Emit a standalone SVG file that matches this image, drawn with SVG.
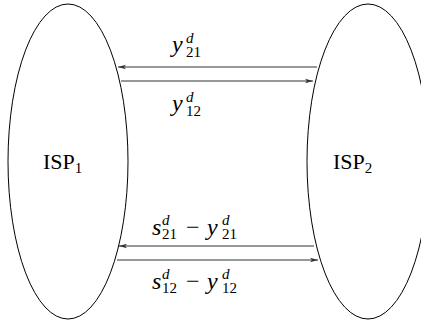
<svg xmlns="http://www.w3.org/2000/svg" width="421" height="321" viewBox="0 0 421 321">
<style>
.node{fill:none;stroke:#000;stroke-width:1}
.conn{stroke:#333;stroke-width:1.2;fill:none}
</style>
<defs>
<marker id="ah" markerWidth="9" markerHeight="6" refX="8" refY="3" orient="auto" markerUnits="userSpaceOnUse">
<path d="M0,0.8 L8,3 L0,5.2 L2,3 Z" fill="#333"/>
</marker>
</defs>
<rect width="421" height="321" fill="#fff"/>
<g id="isp1">
<ellipse class="node" cx="68" cy="161.5" rx="60" ry="157.5"/>
<text font-family="Liberation Serif, serif" font-size="22" x="43" y="169">ISP<tspan font-size="15" dy="4">1</tspan></text>
</g>
<g id="isp2">
<ellipse class="node" cx="368" cy="161.5" rx="61" ry="157.5"/>
<text font-family="Liberation Serif, serif" font-size="22" x="333" y="169">ISP<tspan font-size="15" dy="4">2</tspan></text>
</g>
<g id="connectors">
<line class="conn" x1="317" y1="67" x2="118" y2="67" marker-end="url(#ah)"/>
<line class="conn" x1="121" y1="81" x2="313" y2="81" marker-end="url(#ah)"/>
<line class="conn" x1="314" y1="246" x2="119" y2="246" marker-end="url(#ah)"/>
<line class="conn" x1="117" y1="260" x2="318" y2="260" marker-end="url(#ah)"/>
</g>
<g id="labels" font-family="Liberation Serif, serif" font-size="24">
<text x="172" y="52"><tspan font-style="italic">y</tspan><tspan font-size="15" font-style="italic" x="186" y="43">d</tspan><tspan font-size="15" x="186" y="57">21</tspan></text>
<text x="172" y="111"><tspan font-style="italic">y</tspan><tspan font-size="15" font-style="italic" x="186" y="102">d</tspan><tspan font-size="15" x="186" y="116">12</tspan></text>
<text x="152" y="235"><tspan font-style="italic">s</tspan><tspan font-size="15" font-style="italic" x="162" y="225">d</tspan><tspan font-size="15" x="162" y="239">21</tspan><tspan x="186" y="235">−</tspan><tspan font-style="italic" x="207" y="235">y</tspan><tspan font-size="15" font-style="italic" x="222" y="225">d</tspan><tspan font-size="15" x="222" y="239">21</tspan></text>
<text x="152" y="289"><tspan font-style="italic">s</tspan><tspan font-size="15" font-style="italic" x="162" y="279">d</tspan><tspan font-size="15" x="162" y="293">12</tspan><tspan x="186" y="289">−</tspan><tspan font-style="italic" x="207" y="289">y</tspan><tspan font-size="15" font-style="italic" x="222" y="279">d</tspan><tspan font-size="15" x="222" y="293">12</tspan></text>
</g>
</svg>
